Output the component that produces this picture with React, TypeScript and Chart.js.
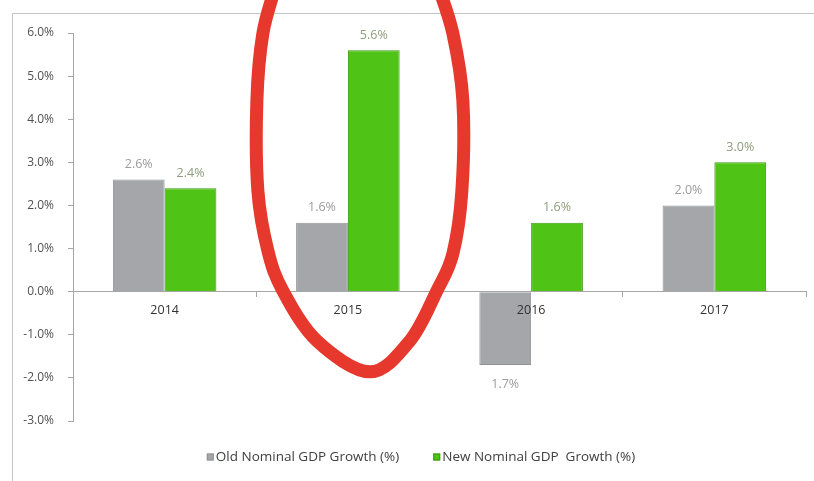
import React, { useEffect, useRef } from 'react';
import { Chart, registerables } from 'chart.js';

Chart.register(...registerables);

// ---- data ----
const categories = ['2014', '2015', '2016', '2017'];
const oldGrowth = [2.6, 1.6, -1.7, 2.0];
const newGrowth = [2.4, 5.6, 1.6, 3.0];
const seriesNames = ['Old Nominal GDP Growth (%)', 'New Nominal GDP  Growth (%)'];
const yMin = -3;
const yMax = 6;
const yStep = 1;
const highlightedCategory = '2015';

// ---- styles ----
const FONT = '"Open Sans", "DejaVu Sans", sans-serif';
const greyFill = '#a4a6aa';
const greyBorder = '#909296';
const greenFill = '#4fc417';
const greenBorder = '#3a9a0e';
const labelColors = ['#9c9c9c', '#8d9c7c'];
const axisColor = '#a6a6a6';

const framePlugin = {
  id: 'frame',
  beforeDraw(chart: any) {
    const { ctx, width, height } = chart;
    ctx.save();
    ctx.fillStyle = '#ffffff';
    ctx.fillRect(0, 0, width, height);
    ctx.strokeStyle = '#c4c4c4';
    ctx.lineWidth = 1;
    ctx.beginPath();
    ctx.moveTo(12.5, height);
    ctx.lineTo(12.5, 13.5);
    ctx.lineTo(width, 13.5);
    ctx.stroke();
    ctx.restore();
  },
};

const dataLabelPlugin = {
  id: 'dataLabels',
  afterDatasetsDraw(chart: any) {
    const { ctx } = chart;
    ctx.save();
    ctx.font = `12.5px ${FONT}`;
    ctx.textAlign = 'center';
    ctx.textBaseline = 'middle';
    chart.data.datasets.forEach((ds: any, i: number) => {
      const meta = chart.getDatasetMeta(i);
      meta.data.forEach((bar: any, j: number) => {
        const v = ds.data[j] as number;
        const txt = Math.abs(v).toFixed(1) + '%';
        ctx.fillStyle = labelColors[i];
        const y = v >= 0 ? bar.y - 15 : bar.y + 19;
        ctx.fillText(txt, bar.x, y);
      });
    });
    ctx.restore();
  },
};

const legendPlugin = {
  id: 'customLegend',
  afterDraw(chart: any) {
    const { ctx } = chart;
    ctx.save();
    ctx.font = `13.5px ${FONT}`;
    ctx.textBaseline = 'middle';
    ctx.textAlign = 'left';
    const box = 7;
    const boxGap = 2;
    const itemGap = 34;
    const widths = chart.data.datasets.map((ds: any) => box + boxGap + ctx.measureText(ds.label).width);
    const total = widths.reduce((a: number, b: number) => a + b, 0) + itemGap * (widths.length - 1);
    let x = 421 - total / 2;
    const y = 457;
    chart.data.datasets.forEach((ds: any, i: number) => {
      ctx.fillStyle = ds.backgroundColor;
      ctx.fillRect(x, y - box / 2, box, box);
      ctx.strokeStyle = ds.borderColor;
      ctx.lineWidth = 1;
      ctx.strokeRect(x + 0.5, y - box / 2 + 0.5, box - 1, box - 1);
      ctx.fillStyle = '#404040';
      ctx.fillText(ds.label, x + box + boxGap, y + 0.5);
      x += widths[i] + itemGap;
    });
    ctx.restore();
  },
};

// hand-drawn highlight ring: [dx from category centre in px, y value on axis]
const ringPoints: [number, number][] = [
  [-72, 7.1], [-85, 5.99], [-91, 4.43], [-90, 2.34], [-80, 0.95], [-65, 0.02],
  [-31, -1.14], [22, -1.86], [62, -1.14], [89, 0.02], [105, 0.88], [114, 2.34],
  [115, 4.43], [105, 5.99], [90, 7.1],
];

const ringPlugin = {
  id: 'ring',
  afterDraw(chart: any) {
    const { ctx } = chart;
    const xs = chart.scales.x;
    const ys = chart.scales.y;
    const cx = xs.getPixelForValue(categories.indexOf(highlightedCategory));
    const pts = ringPoints.map(([dx, v]) => ({ x: cx + dx, y: ys.getPixelForValue(v) }));
    ctx.save();
    ctx.strokeStyle = '#e6382d';
    ctx.lineWidth = 13;
    ctx.lineCap = 'round';
    ctx.lineJoin = 'round';
    ctx.beginPath();
    ctx.moveTo(pts[0].x, pts[0].y);
    for (let i = 0; i < pts.length - 1; i++) {
      const p0 = pts[i - 1] || pts[i];
      const p1 = pts[i];
      const p2 = pts[i + 1];
      const p3 = pts[i + 2] || p2;
      ctx.bezierCurveTo(
        p1.x + (p2.x - p0.x) / 6, p1.y + (p2.y - p0.y) / 6,
        p2.x - (p3.x - p1.x) / 6, p2.y - (p3.y - p1.y) / 6,
        p2.x, p2.y
      );
    }
    ctx.stroke();
    ctx.restore();
  },
};

export default function App() {
  const ref = useRef<HTMLCanvasElement>(null);

  useEffect(() => {
    if (!ref.current) return;
    const chart = new Chart(ref.current, {
      type: 'bar',
      data: {
        labels: categories,
        datasets: [
          {
            label: seriesNames[0],
            data: oldGrowth,
            backgroundColor: greyFill,
            borderColor: greyBorder,
            borderWidth: 1,
            barPercentage: 1,
            categoryPercentage: 0.565,
          },
          {
            label: seriesNames[1],
            data: newGrowth,
            backgroundColor: greenFill,
            borderColor: greenBorder,
            borderWidth: 1,
            barPercentage: 1,
            categoryPercentage: 0.565,
          },
        ],
      },
      options: {
        responsive: false,
        animation: false,
        layout: { padding: { top: 33, right: 8, bottom: 60, left: 0 } },
        plugins: {
          legend: { display: false },
          tooltip: { enabled: false },
        },
        scales: {
          x: {
            position: { y: 0 } as any,
            afterFit: (s: any) => { s.height = 0; },
            grid: {
              display: true,
              drawOnChartArea: false,
              tickLength: 5,
              color: axisColor,
              tickColor: axisColor,
            },
            border: { display: true, color: axisColor, width: 1, z: 1 } as any,
            ticks: {
              z: 1,
              color: '#333333',
              padding: 6,
              font: { family: FONT, size: 12.5 },
              maxRotation: 0,
            },
          },
          y: {
            min: yMin,
            max: yMax,
            afterFit: (s: any) => { s.width = 73; },
            grid: {
              display: true,
              drawOnChartArea: false,
              tickLength: 5,
              color: axisColor,
              tickColor: axisColor,
            },
            border: { display: true, color: axisColor, width: 1 },
            ticks: {
              stepSize: yStep,
              color: '#505050',
              padding: 14,
              font: { family: FONT, size: 12 },
              callback: (v: any) => Number(v).toFixed(1) + '%',
            },
          },
        },
      },
      plugins: [framePlugin, dataLabelPlugin, legendPlugin, ringPlugin],
    });
    return () => chart.destroy();
  }, []);

  return (
    <div style={{ position: 'absolute', left: 0, top: 0, width: 814, height: 481 }}>
      <canvas ref={ref} width={814} height={481} style={{ width: 814, height: 481, display: 'block' }} />
    </div>
  );
}
